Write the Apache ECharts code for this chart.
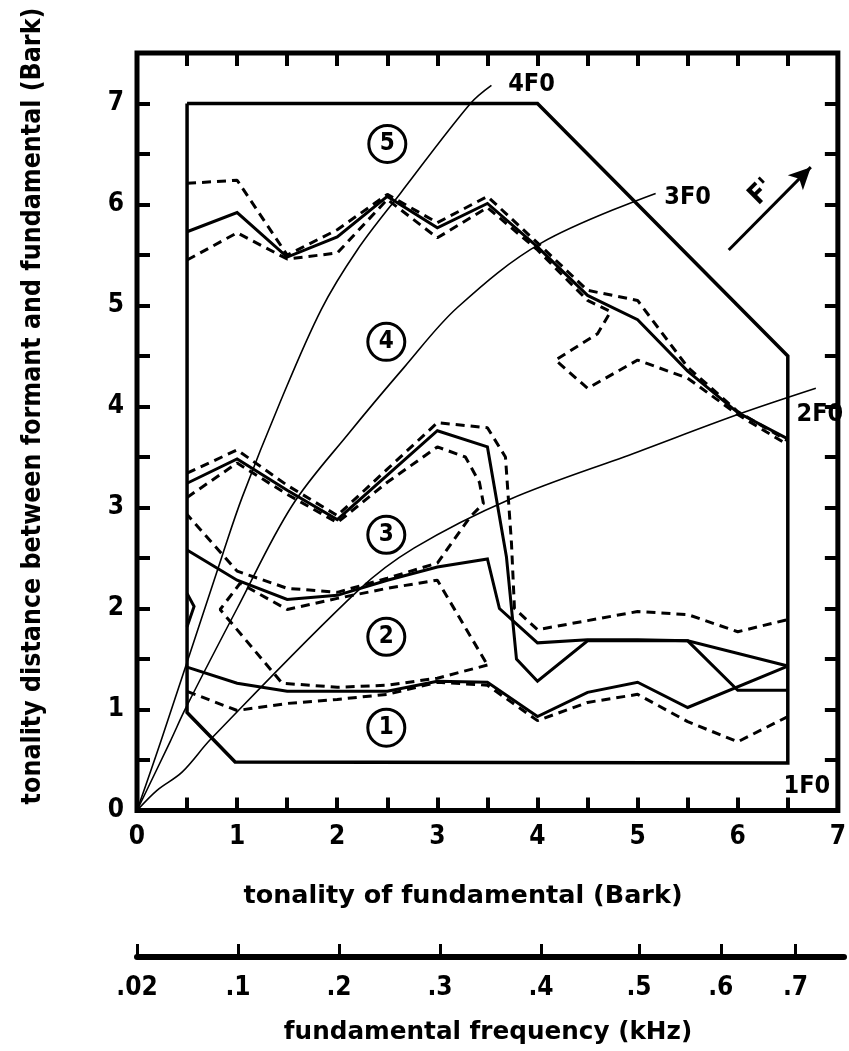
<!DOCTYPE html>
<html>
<head>
<meta charset="utf-8">
<script src="https://cdn.jsdelivr.net/npm/echarts@6/dist/echarts.min.js"></script>
<style>
  html, body { margin: 0; padding: 0; background: #fff; }
  #chart { width: 849px; height: 1051px; }
</style>
</head>
<body>
<div id="chart"></div>
<script>
const FONT = '"DejaVu Sans Condensed", "DejaVu Sans", sans-serif';
const FONT_WIDE = '"DejaVu Sans", sans-serif';

// Tick labels
const xTickLabels = ['0', '1', '2', '3', '4', '5', '6', '7'];
const yTickLabels = ['0', '1', '2', '3', '4', '5', '6', '7'];
// Frequency scale: Bark position of each frequency tick, and its label (kHz)
const freqTickBark = [0, 1, 2, 3, 4, 4.97, 5.78, 6.52];
const freqTickLabels = ['.02', '.1', '.2', '.3', '.4', '.5', '.6', '.7'];

// Outline of the measured area
const outline = [[0.5, 7], [4, 7], [6.5, 4.5], [6.5, 0.47], [0.98, 0.48], [0.5, 0.97], [0.5, 7]];
const outlineNotch = [[0.5, 2.15], [0.57, 2.02], [0.5, 1.82]];

// Harmonics: distance between nF0 and F0
const harm4F0 = [[0, 0], [0.25, 0.72], [0.86, 2.55], [1.05, 3.1], [1.42, 4.02], [1.84, 4.96], [2.2, 5.55], [2.63, 6.11], [3.33, 7.0], [3.54, 7.18]];
const harm3F0 = [[0, 0], [0.33, 0.68], [0.49, 1.02], [1.0, 2.0], [1.55, 3.02], [2.12, 3.74], [2.67, 4.39], [3.2, 4.98], [4.04, 5.62], [5.18, 6.11]];
const harm2F0 = [[0, 0], [0.2, 0.2], [0.45, 0.38], [0.74, 0.71], [2.21, 2.18], [2.77, 2.6], [3.72, 3.08], [5.0, 3.55], [6.0, 3.92], [6.78, 4.18]];

// Boundary 4/5
const top45Mean  = [[0.5, 5.73], [1, 5.92], [1.5, 5.48], [2, 5.68], [2.5, 6.08], [3, 5.77], [3.5, 6.01], [4, 5.58], [4.5, 5.1], [5, 4.86], [5.5, 4.35], [6, 3.94], [6.5, 3.68]];
const top45Upper = [[0.5, 6.21], [1, 6.24], [1.5, 5.5], [2, 5.75], [2.5, 6.1], [3, 5.82], [3.5, 6.08], [4, 5.62], [4.5, 5.15], [5, 5.05], [5.5, 4.39], [6, 3.95], [6.5, 3.66]];
const top45Lower = [[0.5, 5.45], [1, 5.72], [1.5, 5.46], [2, 5.52], [2.5, 6.05], [3, 5.67], [3.5, 5.97], [4, 5.55], [4.5, 5.05], [4.73, 4.94], [4.6, 4.72], [4.18, 4.46], [4.5, 4.18], [5, 4.46], [5.5, 4.28], [6, 3.92], [6.5, 3.62]];

// Boundary 3/4
const mid34Mean  = [[0.5, 3.24], [1, 3.48], [1.5, 3.17], [2, 2.88], [2.5, 3.32], [3, 3.76], [3.5, 3.6], [3.69, 2.51], [3.79, 1.5], [4, 1.28], [4.5, 1.68], [5, 1.68], [5.5, 1.68], [6, 1.19], [6.5, 1.19]];
const mid34Upper = [[0.5, 3.34], [1, 3.57], [1.5, 3.22], [2, 2.92], [2.5, 3.38], [3, 3.84], [3.5, 3.79], [3.68, 3.5], [3.74, 2.65], [3.77, 2.0], [4, 1.79], [4.5, 1.88], [5, 1.97], [5.5, 1.94], [6, 1.77], [6.5, 1.89]];
const mid34Lower = [[0.5, 3.1], [1, 3.44], [1.5, 3.13], [2, 2.85], [2.5, 3.25], [3, 3.6], [3.28, 3.5], [3.42, 3.25], [3.46, 3.04], [3.33, 2.91], [3, 2.45], [2.5, 2.3], [2, 2.16], [1.5, 2.2], [1, 2.37], [0.5, 2.93]];

// Boundary 2/3
const mid23Mean = [[0.5, 2.58], [1, 2.28], [1.5, 2.09], [2, 2.13], [2.5, 2.28], [3, 2.41], [3.5, 2.49], [3.62, 2.0], [4, 1.66], [4.5, 1.69], [5, 1.69], [5.5, 1.68], [6.5, 1.43]];
const area2Spread = [[3.5, 1.44], [3, 1.31], [2.5, 1.24], [2, 1.22], [1.45, 1.26], [0.83, 1.99], [1.03, 2.25], [1.5, 1.99], [2, 2.1], [2.5, 2.2], [3, 2.28], [3.5, 1.44]];

// Boundary 1/2
const low12Mean  = [[0.5, 1.42], [1, 1.26], [1.5, 1.18], [2, 1.18], [2.5, 1.18], [3, 1.28], [3.5, 1.27], [4, 0.93], [4.5, 1.17], [5, 1.27], [5.5, 1.02], [6.5, 1.43]];
const low12Lower = [[0.5, 1.18], [1, 0.99], [1.5, 1.06], [2, 1.1], [2.5, 1.15], [3, 1.27], [3.5, 1.24], [4, 0.89], [4.5, 1.07], [5, 1.15], [5.5, 0.88], [6, 0.68], [6.5, 0.93]];

// Area numbers
const areaNames = ['1', '2', '3', '4', '5'];
const areaPos = [[2.49, 0.82], [2.49, 1.72], [2.49, 2.73], [2.49, 4.64], [2.5, 6.6]];

// Harmonic curve names
const harmNames = ['4F0', '3F0', '2F0', '1F0'];
const harmNamePos = [[3.94, 7.19], [5.5, 6.07], [6.82, 3.92], [6.69, 0.24]];

// Formant direction arrow
const arrowFrom = [5.91, 5.55];
const arrowTo = [6.73, 6.37];
const arrowName = "F'";
const arrowNamePos = [6.24, 6.12];

const chart = echarts.init(document.getElementById('chart'), null, { renderer: 'canvas' });

const solid = (data, w) => ({
  type: 'line', data, symbol: 'none', silent: true,
  xAxisIndex: 0, yAxisIndex: 0,
  lineStyle: { color: '#000', width: w, type: 'solid', join: 'miter' }
});
const dashed = (data) => ({
  type: 'line', data, symbol: 'none', silent: true,
  xAxisIndex: 0, yAxisIndex: 0,
  lineStyle: { color: '#000', width: 3, type: [9, 6] }
});
const curve = (data) => ({
  type: 'line', data, symbol: 'none', silent: true, smooth: 0.35,
  xAxisIndex: 0, yAxisIndex: 0,
  lineStyle: { color: '#000', width: 1.6 }
});

const labelStyle = { fontFamily: FONT, fontWeight: 'bold', color: '#000', opacity: 1 };
const tickInside = { show: true, inside: true, length: 13, lineStyle: { color: '#000', width: 4 } };
const noLine = { show: false, onZero: false };

const option = {
  animation: false,
  backgroundColor: '#fff',
  grid: [
    { left: 137, right: 5, top: 53, bottom: 240.5, show: true, borderColor: '#000', borderWidth: 5, backgroundColor: 'transparent' },
    { left: 137, right: 5, top: 956, height: 1, show: false }
  ],
  xAxis: [
    {
      type: 'value', gridIndex: 0, position: 'bottom', min: 0, max: 7, interval: 0.5,
      axisLine: noLine, splitLine: { show: false }, axisTick: tickInside,
      axisLabel: Object.assign({ fontSize: 26, margin: 14,
        formatter: v => Number.isInteger(v) ? xTickLabels[v] : '' }, labelStyle)
    },
    {
      type: 'value', gridIndex: 0, position: 'top', min: 0, max: 7, interval: 0.5,
      axisLine: noLine, splitLine: { show: false }, axisTick: tickInside,
      axisLabel: { show: false }
    },
    {
      type: 'value', gridIndex: 1, position: 'bottom', min: 0, max: 7,
      axisLine: { show: true, onZero: false, lineStyle: { color: '#000', width: 6 } },
      splitLine: { show: false },
      axisTick: { show: true, inside: true, length: 13, customValues: freqTickBark, lineStyle: { color: '#000', width: 3 } },
      axisLabel: Object.assign({ fontSize: 26, margin: 18, customValues: freqTickBark,
        formatter: v => { const i = freqTickBark.indexOf(v); return i >= 0 ? freqTickLabels[i] : ''; } }, labelStyle)
    }
  ],
  yAxis: [
    {
      type: 'value', gridIndex: 0, position: 'left', min: 0, max: 7.5, interval: 0.5,
      axisLine: noLine, splitLine: { show: false }, axisTick: tickInside,
      axisLabel: Object.assign({ fontSize: 26, margin: 13,
        formatter: v => Number.isInteger(v) ? yTickLabels[v] : '' }, labelStyle)
    },
    {
      type: 'value', gridIndex: 0, position: 'right', min: 0, max: 7.5, interval: 0.5,
      axisLine: noLine, splitLine: { show: false }, axisTick: tickInside,
      axisLabel: { show: false }
    },
    { type: 'value', gridIndex: 1, show: false, min: 0, max: 1 }
  ],
  graphic: [
    { type: 'text', x: 33, y: 406, rotation: Math.PI / 2,
      style: { text: 'tonality distance between formant and fundamental (Bark)', font: 'bold 26.5px ' + FONT, fill: '#000', align: 'center', verticalAlign: 'middle' } },
    { type: 'text', x: 463, y: 896,
      style: { text: 'tonality of fundamental (Bark)', font: 'bold 25.5px ' + FONT_WIDE, fill: '#000', align: 'center', verticalAlign: 'middle' } },
    { type: 'text', x: 488, y: 1033,
      style: { text: 'fundamental frequency (kHz)', font: 'bold 24.7px ' + FONT_WIDE, fill: '#000', align: 'center', verticalAlign: 'middle' } }
  ],
  series: [
    solid(outline, 3.5),
    solid(outlineNotch, 3),
    curve(harm4F0),
    curve(harm3F0),
    curve(harm2F0),
    solid(top45Mean, 3), dashed(top45Upper), dashed(top45Lower),
    solid(mid34Mean, 3), dashed(mid34Upper), dashed(mid34Lower),
    solid(mid23Mean, 3), dashed(area2Spread),
    solid(low12Mean, 3), dashed(low12Lower),
    {
      type: 'scatter', silent: true, xAxisIndex: 0, yAxisIndex: 0,
      symbol: 'circle', symbolSize: 37,
      itemStyle: { color: 'rgba(0,0,0,0)', borderColor: '#000', borderWidth: 3, opacity: 1 },
      label: Object.assign({ show: true, position: 'inside', fontSize: 24,
        formatter: p => areaNames[p.dataIndex] }, labelStyle),
      data: areaPos
    },
    {
      type: 'scatter', silent: true, xAxisIndex: 0, yAxisIndex: 0,
      symbol: 'circle', symbolSize: 0, itemStyle: { opacity: 1 },
      label: Object.assign({ show: true, position: 'inside', fontSize: 25,
        formatter: p => harmNames[p.dataIndex] }, labelStyle),
      data: harmNamePos
    },
    {
      type: 'scatter', silent: true, xAxisIndex: 0, yAxisIndex: 0,
      symbol: 'circle', symbolSize: 0, itemStyle: { opacity: 1 },
      label: Object.assign({ show: true, position: 'inside', fontSize: 27, rotate: 45,
        formatter: () => arrowName }, labelStyle),
      data: [arrowNamePos],
      markLine: {
        silent: true, animation: false,
        symbol: ['none', 'arrow'], symbolSize: [16, 22],
        label: { show: false },
        lineStyle: { color: '#000', width: 3, type: 'solid', opacity: 1 },
        data: [[{ coord: arrowFrom }, { coord: arrowTo }]]
      }
    }
  ]
};

chart.setOption(option);
</script>
</body>
</html>
